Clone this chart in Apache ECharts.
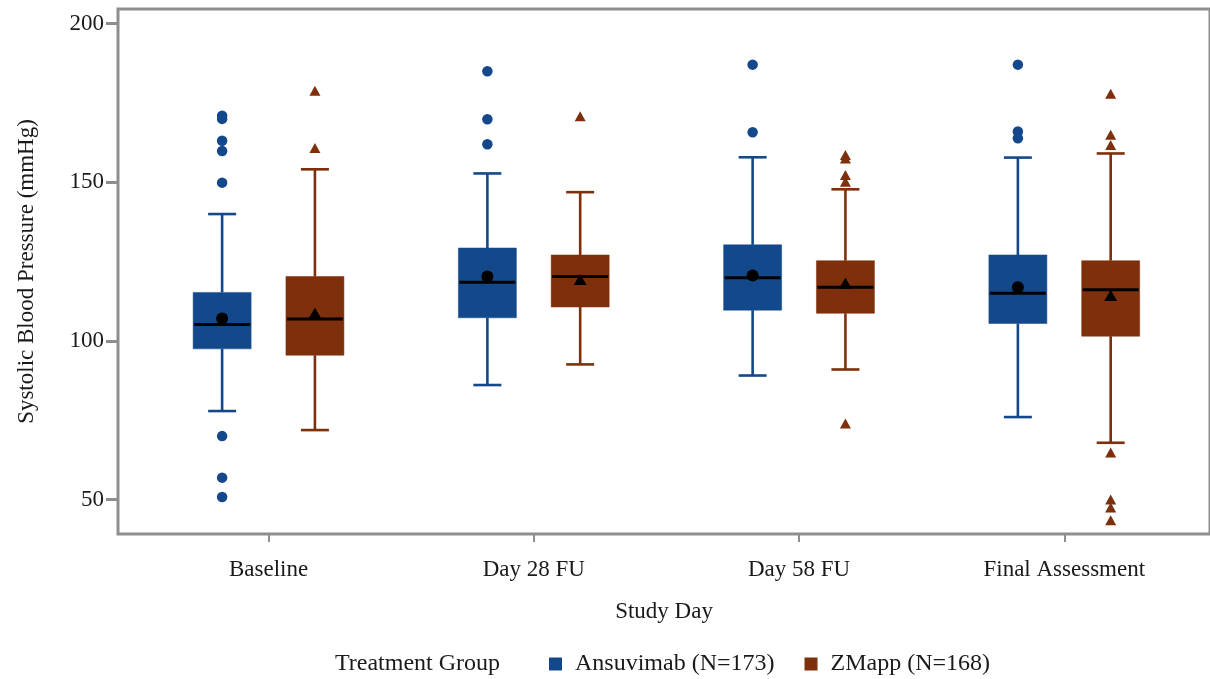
<!DOCTYPE html>
<html>
<head>
<meta charset="utf-8">
<script src="https://cdn.jsdelivr.net/npm/echarts@6/dist/echarts.min.js"></script>
<style>html,body{margin:0;padding:0;background:#fff;}#c{width:1210px;height:679px;}</style>
</head>
<body>
<div id="c"></div>
<script>
// ---- data ----
const categories = ['Baseline', 'Day 28 FU', 'Day 58 FU', 'Final Assessment'];
const groupNames = ['Ansuvimab (N=173)', 'ZMapp (N=168)'];
const yTicks = [50, 100, 150, 200];
// [low whisker, Q1, median, Q3, high whisker] per category
const ansuBox = [
  [77.9, 97.5, 105.2, 115.3, 140.0],
  [86.1, 107.3, 118.5, 129.3, 152.8],
  [89.1, 109.7, 119.9, 130.3, 157.9],
  [76.0, 105.5, 115.0, 127.1, 157.8]
];
const zmappBox = [
  [71.9, 95.5, 106.9, 120.3, 154.1],
  [92.6, 110.7, 120.3, 127.1, 146.9],
  [91.0, 108.7, 116.9, 125.3, 147.8],
  [67.9, 101.5, 116.1, 125.3, 159.1]
];
const ansuMean = [107.1, 120.3, 120.6, 116.9];
const zmappMean = [108.7, 119.4, 118.2, 114.3];
const ansuOutliers = [
  [171.0, 170.0, 163.1, 159.9, 149.9, 70.0, 56.9, 50.8],
  [185.0, 169.9, 162.0],
  [187.1, 165.8],
  [187.1, 166.0, 163.9]
];
const zmappOutliers = [
  [178.9, 160.8],
  [170.8],
  [158.6, 157.5, 152.3, 150.2, 74.0],
  [177.9, 165.0, 161.8, 64.8, 50.0, 47.5, 43.5]
];

// ---- styles ----
const BLUE = '#13488b';
const BROWN = '#7e2f0b';
const FRAME = '#8e8e8e';
const TXT = '#1a1a1a';
const FONT = 'Liberation Serif';
const FS = 23;
const LFS = 24;
const OFFSET = 46.4;
const BOXW = 58;
const CAPW = 28;

function boxData(arr) { return arr.map((b, i) => [i].concat(b)); }
function pts(arr) { const out = []; arr.forEach((list, i) => list.forEach(v => out.push([i, v]))); return out; }

function makeRender(color, dx) {
  return function (params, api) {
    const i = api.value(0);
    const lo = api.coord([i, api.value(1)]);
    const q1 = api.coord([i, api.value(2)]);
    const md = api.coord([i, api.value(3)]);
    const q3 = api.coord([i, api.value(4)]);
    const hi = api.coord([i, api.value(5)]);
    const cx = lo[0] + dx;
    const lw = 2.6;
    return {
      type: 'group',
      children: [
        { type: 'line', shape: { x1: cx, y1: hi[1], x2: cx, y2: q3[1] }, style: { stroke: color, lineWidth: lw } },
        { type: 'line', shape: { x1: cx, y1: q1[1], x2: cx, y2: lo[1] }, style: { stroke: color, lineWidth: lw } },
        { type: 'line', shape: { x1: cx - CAPW / 2, y1: hi[1], x2: cx + CAPW / 2, y2: hi[1] }, style: { stroke: color, lineWidth: lw } },
        { type: 'line', shape: { x1: cx - CAPW / 2, y1: lo[1], x2: cx + CAPW / 2, y2: lo[1] }, style: { stroke: color, lineWidth: lw } },
        { type: 'rect', shape: { x: cx - BOXW / 2, y: q3[1], width: BOXW, height: q1[1] - q3[1] }, style: { fill: color, stroke: color, lineWidth: 0.5 } },
        { type: 'line', shape: { x1: cx - BOXW / 2 + 1, y1: md[1], x2: cx + BOXW / 2 - 1, y2: md[1] }, style: { stroke: '#000', lineWidth: 3 } }
      ]
    };
  };
}

const chart = echarts.init(document.getElementById('c'), null, { renderer: 'canvas' });
const option = {
  backgroundColor: '#fff',
  animation: false,
  textStyle: { fontFamily: FONT, color: TXT },
  grid: [
    { left: 118, top: 9, width: 1096, height: 525, show: true, borderColor: FRAME, borderWidth: 3, backgroundColor: 'transparent' },
    { left: 135.9, top: 9, width: 1061, height: 525 }
  ],
  xAxis: [
    { gridIndex: 0, type: 'value', min: 0, max: 1, axisLine: { show: false }, axisTick: { show: false }, axisLabel: { show: false }, splitLine: { show: false },
      name: 'Study Day', nameLocation: 'middle', nameGap: 66, nameTextStyle: { fontFamily: FONT, fontSize: FS, color: TXT } },
    { gridIndex: 1, type: 'category', data: categories, boundaryGap: true,
      axisLine: { show: false },
      axisTick: { show: true, alignWithLabel: true, length: 8, lineStyle: { color: FRAME, width: 2 } },
      axisLabel: { margin: 24, fontFamily: FONT, fontSize: FS, color: TXT },
      splitLine: { show: false } }
  ],
  yAxis: [
    { gridIndex: 0, type: 'value', min: 0, max: 1, show: false },
    { gridIndex: 1, type: 'value', min: 39.14, max: 204.64, offset: 17.9,
      axisLine: { show: false },
      axisTick: { show: true, length: 12, customValues: yTicks, lineStyle: { color: FRAME, width: 3 } },
      axisLabel: { customValues: yTicks, margin: 14, fontFamily: FONT, fontSize: FS, color: TXT },
      splitLine: { show: false },
      name: 'Systolic Blood Pressure (mmHg)', nameLocation: 'middle', nameGap: 80,
      nameTextStyle: { fontFamily: FONT, fontSize: FS, color: TXT } }
  ],
  legend: {
    left: 549, top: 652, padding: 0, itemWidth: 13, itemHeight: 13, itemGap: 30, icon: 'rect',
    textStyle: { fontFamily: FONT, fontSize: LFS, color: TXT, padding: [0, 0, 0, 8] },
    data: [ { name: groupNames[0], itemStyle: { color: BLUE } }, { name: groupNames[1], itemStyle: { color: BROWN } } ]
  },
  graphic: [
    { type: 'text', x: 335, y: 664, style: { text: 'Treatment Group', fontFamily: FONT, fontSize: LFS, fill: TXT, verticalAlign: 'middle' } }
  ],
  series: [
    { name: groupNames[0], type: 'custom', xAxisIndex: 1, yAxisIndex: 1, itemStyle: { color: BLUE },
      renderItem: makeRender(BLUE, -OFFSET), encode: { x: 0, y: [1, 2, 3, 4, 5] }, data: boxData(ansuBox), z: 2 },
    { name: groupNames[1], type: 'custom', xAxisIndex: 1, yAxisIndex: 1, itemStyle: { color: BROWN },
      renderItem: makeRender(BROWN, OFFSET), encode: { x: 0, y: [1, 2, 3, 4, 5] }, data: boxData(zmappBox), z: 2 },
    { name: groupNames[0], type: 'scatter', xAxisIndex: 1, yAxisIndex: 1, symbol: 'circle', symbolSize: 10.5,
      symbolOffset: [-OFFSET, 0], itemStyle: { color: BLUE, opacity: 1 }, data: pts(ansuOutliers), z: 3 },
    { name: groupNames[1], type: 'scatter', xAxisIndex: 1, yAxisIndex: 1, symbol: 'triangle', symbolSize: [11, 10],
      symbolOffset: [OFFSET, 0], itemStyle: { color: BROWN, opacity: 1 }, data: pts(zmappOutliers), z: 3 },
    { name: 'meanA', type: 'scatter', xAxisIndex: 1, yAxisIndex: 1, symbol: 'circle', symbolSize: 12,
      symbolOffset: [-OFFSET, 0], itemStyle: { color: '#000', opacity: 1 }, data: ansuMean.map((v, i) => [i, v]), z: 4 },
    { name: 'meanZ', type: 'scatter', xAxisIndex: 1, yAxisIndex: 1, symbol: 'triangle', symbolSize: [13, 11],
      symbolOffset: [OFFSET, 0], itemStyle: { color: '#000', opacity: 1 }, data: zmappMean.map((v, i) => [i, v]), z: 4 }
  ]
};
chart.setOption(option);
</script>
</body>
</html>
